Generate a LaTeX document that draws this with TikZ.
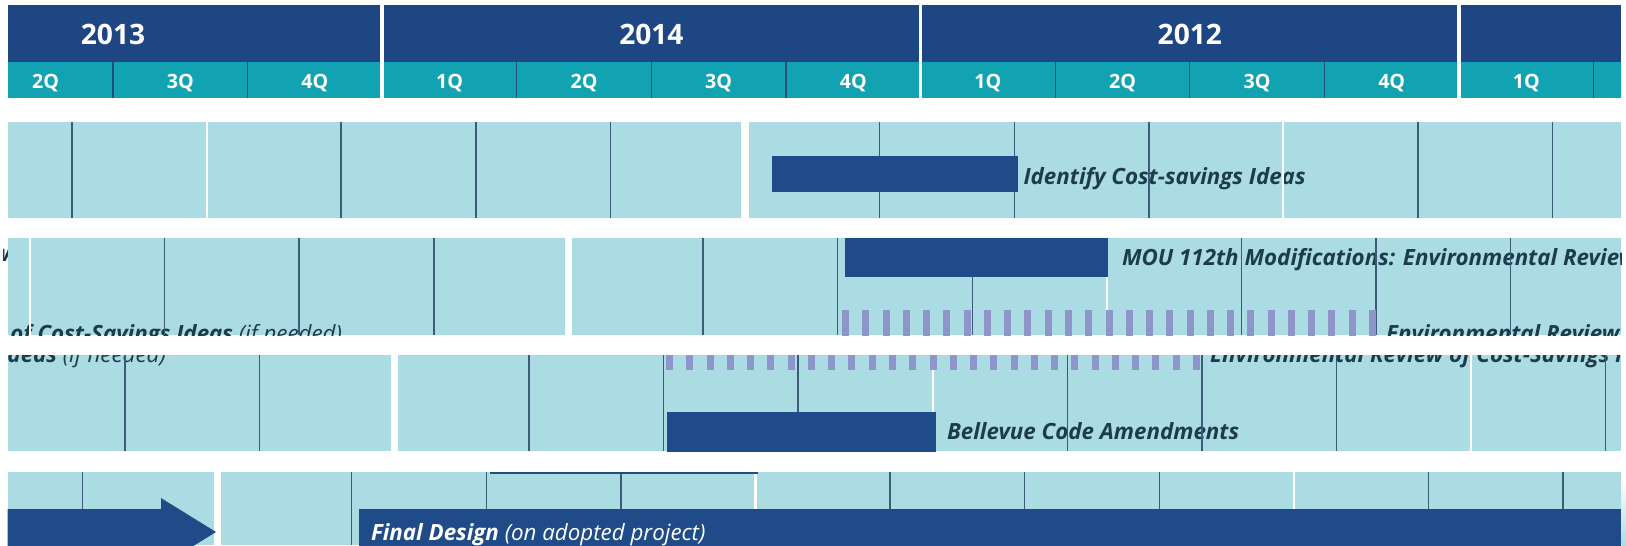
\documentclass[tikz,border=0pt]{standalone}
\usepackage{fontspec}
\setmainfont{Open Sans}
\usetikzlibrary{arrows}

\begin{document}
\begin{tikzpicture}[x=0.01cm, y=-0.01cm, scale=1,
    %Option for the chart
    inner sep=0pt, outer sep=0pt,%
    yearlbl/.style={text=white, font=\fontsize{8}{9}\selectfont\bfseries, anchor=base},
    quartlbl/.style={text=white, font=\fontsize{5.6}{7}\selectfont\bfseries, anchor=base},
    tasklbl/.style={text=#1, font=\fontsize{6.35}{7.5}\selectfont\bfseries\itshape, anchor=base west},
    tasklbl/.default=lbltext,
    taskbar/.style={fill=bardark},
    revbar/.style={fill=stripe},
    qline/.style={draw=qlinec, line width=0.35pt},
    hline/.style={draw=white, line width=1pt},
    dline/.style={draw=linedark, line width=0.4pt},
    wline/.style={draw=white, line width=0.6pt},
    gline/.style={draw=white, line width=2pt},
]
    % Colors
    \definecolor{navy}{HTML}{1E4683}
    \definecolor{qteal}{HTML}{12A3B3}
    \definecolor{rowbg}{HTML}{ABDCE3}
    \definecolor{bardark}{HTML}{1F4C88}
    \definecolor{linedark}{HTML}{3C5B77}
    \definecolor{qlinec}{HTML}{1F4F7A}
    \definecolor{stripe}{HTML}{8E96C9}
    \definecolor{lbltext}{HTML}{1C3B4C}

    \useasboundingbox (0,0) rectangle (1626,545);

    % Header
    \fill[navy] (7.7,5) rectangle (1621,62);
    \fill[qteal] (7.7,62) rectangle (1621,98);
    \foreach \k in {0,1,3,4,5,7,8,9,11}
        \draw[qline] ({113+\k*134.6},62) -- ++(0,36);
    \foreach \k in {2,6,10}
        \draw[hline] ({113+\k*134.6},5) -- ++(0,93);
    \node[yearlbl] (y2013) at (113,44) {2013};
    \node[yearlbl] (y2014) at (651.4,44) {2014};
    \node[yearlbl] (y2012) at (1189.8,44) {2012};
    \foreach \q [count=\n from 0] in {2,3,4,1,2,3,4,1,2,3,4,1}
        \node[quartlbl] (q\n) at ({45.7+\n*134.6},88.5) {\q Q};

    % Row 1
    \begin{scope}
        \clip (7.7,122) rectangle (1621,218);
        \fill[rowbg] (7.7,122) rectangle (1621,218);
        \node[tasklbl] (lblident) at (1023.5,184) {Identify Cost-savings Ideas};
        \foreach \k in {0,2,3,4,6,7,8,10,11}
            \draw[dline] ({72+\k*134.6},122) -- ++(0,96);
        \foreach \k in {1,9}
            \draw[wline] ({72+\k*134.6},122) -- ++(0,96);
        \draw[gline] ({72+5*134.6},122) -- ++(0,96);
        \fill[taskbar] (771.5,155.5) rectangle (1017.7,192);
    \end{scope}

    % Row 2
    \begin{scope}
        \clip (4,238) rectangle (20,335);
        \node[tasklbl, anchor=base east] (lblrevtail) at (10.5,261) {Review};
    \end{scope}
    \begin{scope}
        \clip (7.7,238) rectangle (1621,335);
        \fill[rowbg] (7.7,238) rectangle (1621,335);
        \node[tasklbl] (lblmou) at (1122,265) {MOU 112th Modifications: Environmental Review};
        \node[tasklbl, anchor=base east] (lblenvtailA) at (342,341)
            {Environmental Review of Cost-Savings Ideas {\mdseries (if needed)}};
        \node[tasklbl] (lblenvA) at (1386,341)
            {Environmental Review of Cost-Savings Ideas {\mdseries (if needed)}};
        \foreach \k in {1,2,3,5,6,7,9,10,11}
            \draw[dline] ({30+\k*134.6},238) -- ++(0,97);
        \foreach \k in {0,8}
            \draw[wline] ({30+\k*134.6},238) -- ++(0,97);
        \draw[gline] ({30+4*134.6},238) -- ++(0,97);
        \fill[taskbar] (844.5,238) rectangle (1108,277);
        \foreach \i in {0,...,26}
            \fill[revbar] ({842+\i*20.27},310) rectangle ++(7,30);
    \end{scope}

    % Row 3
    \begin{scope}
        \clip (7.7,355) rectangle (1621,451);
        \fill[rowbg] (7.7,355) rectangle (1621,451);
        \node[tasklbl, anchor=base east] (lblenvtailB) at (166,362)
            {Environmental Review of Cost-Savings Ideas {\mdseries (if needed)}};
        \node[tasklbl] (lblenvB) at (1210,362)
            {Environmental Review of Cost-Savings Ideas {\mdseries (if needed)}};
        \node[tasklbl] (lblcode) at (947,439) {Bellevue Code Amendments};
        \foreach \k in {0,1,3,4,5,7,8,9,11}
            \draw[dline] ({125+\k*134.6},355) -- ++(0,96);
        \foreach \k in {6,10}
            \draw[wline] ({125+\k*134.6},355) -- ++(0,96);
        \draw[gline] ({125+2*134.6},355) -- ++(0,96);
        \foreach \i in {0,...,26}
            \fill[revbar] ({666+\i*20.27},345) rectangle ++(7,25);
        \fill[taskbar] (667,411.7) rectangle (936,455);
    \end{scope}

    % Row 4
    \begin{scope}
        \clip (7.7,472) rectangle (1621,545);
        \fill[rowbg] (7.7,472) rectangle (1621,545);
        \foreach \k in {0,2,3,4,6,7,8,10,11}
            \draw[dline] ({82.5+\k*134.6},472) -- ++(0,73);
        \foreach \k in {5,9}
            \draw[wline] ({82.5+\k*134.6},472) -- ++(0,73);
        \draw[gline] ({82.5+1*134.6},472) -- ++(0,73);
        \draw[qlinec, line width=0.45pt] (490,472.8) -- (758,472.8);
        \fill[taskbar] (7.7,509) -- (161,509) -- (161,498) -- (216,532)
            -- (161,566) -- (161,555) -- (7.7,555) -- cycle;
        \fill[taskbar] (358.5,509) rectangle (1621,560);
        \node[tasklbl=white] (lblfinal) at (371,540)
            {Final Design {\mdseries (on adopted project)}};
    \end{scope}
    \shade[top color=white, bottom color=rowbg] (1621.5,480) rectangle (1626,545);
\end{tikzpicture}
\end{document}
